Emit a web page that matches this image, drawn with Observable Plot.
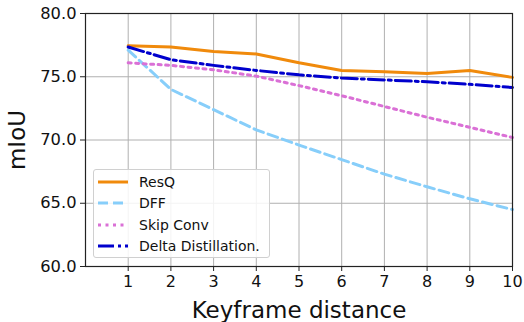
<!DOCTYPE html>
<html>
<head>
<meta charset="utf-8">
<script src="https://cdn.jsdelivr.net/npm/d3@7"></script>
<script src="https://cdn.jsdelivr.net/npm/@observablehq/plot@0.6"></script>
<style>
  body { margin: 0; background: #fff; }
  #wrap { position: relative; width: 524px; height: 322px; font-family: "DejaVu Sans", sans-serif; }
  #legend { position: absolute; left: 93px; top: 169px; width: 177px; height: 89px; border: 1px solid #d0d0d0; border-radius: 3px; background: rgba(255,255,255,0.85); box-sizing: border-box; }
  .row { position: absolute; left: 3px; height: 20px; display: flex; align-items: center; font-size: 14px; color: #111; }
  .row svg { margin-right: 10px; }
</style>
</head>
<body>
<div id="wrap"></div>
<script>
const keyframes = [1, 2, 3, 4, 5, 6, 7, 8, 9, 10];
const resq  = [77.45, 77.35, 77.0, 76.8, 76.1, 75.5, 75.4, 75.25, 75.5, 74.95];
const dff   = [77.1, 74.0, 72.4, 70.8, 69.6, 68.45, 67.3, 66.3, 65.35, 64.5];
const skip  = [76.1, 75.9, 75.55, 75.05, 74.3, 73.5, 72.65, 71.8, 71.0, 70.2];
const delta = [77.35, 76.35, 75.9, 75.5, 75.15, 74.9, 74.75, 74.6, 74.4, 74.15];
const yTicks = [60, 65, 70, 75, 80];

const series = [
  {name: "ResQ", values: resq, color: "#f08a0c", dash: null},
  {name: "DFF", values: dff, color: "#87cefa", dash: "10,5"},
  {name: "Skip Conv", values: skip, color: "#da70d6", dash: "3,4.5"},
  {name: "Delta Distillation.", values: delta, color: "#0000cd", dash: "16,4,3,4"}
];

const lineMarks = series.map(s => Plot.line(
  keyframes.map((k, i) => ({x: k, y: s.values[i]})),
  {x: "x", y: "y", stroke: s.color, strokeWidth: 3, strokeDasharray: s.dash, strokeLinejoin: "round"}
));

const chart = Plot.plot({
  width: 524,
  height: 322,
  marginLeft: 85,
  marginRight: 12,
  marginTop: 13,
  marginBottom: 56,
  style: {fontFamily: "DejaVu Sans, sans-serif", background: "white", color: "#111"},
  x: {domain: [0, 10]},
  y: {domain: [60, 80]},
  marks: [
    Plot.gridX(keyframes, {stroke: "#b0b0b0", strokeOpacity: 1, strokeWidth: 1}),
    Plot.gridY(yTicks, {stroke: "#b0b0b0", strokeOpacity: 1, strokeWidth: 1}),
    ...lineMarks,
    Plot.frame({stroke: "#222", strokeWidth: 1.2}),
    Plot.axisX(keyframes, {tickSize: 5, tickPadding: 4, fontSize: 16, label: null, stroke: "#222"}),
    Plot.axisX([], {tickSize: 0, label: "Keyframe distance", labelAnchor: "center", labelArrow: "none", labelOffset: 51, fontSize: 23}),
    Plot.axisY(yTicks, {tickSize: 5, tickPadding: 4, fontSize: 16.3, tickFormat: d => d.toFixed(1), label: null, stroke: "#222"}),
    Plot.axisY([], {tickSize: 0, label: "mIoU", labelAnchor: "center", labelArrow: "none", labelOffset: 77, fontSize: 23})
  ]
});

const wrap = document.getElementById("wrap");
wrap.appendChild(chart);

const legend = document.createElement("div");
legend.id = "legend";
series.forEach((s, i) => {
  const row = document.createElement("div");
  row.className = "row";
  row.style.top = (2 + i * 21.3) + "px";
  row.innerHTML = `<svg width="32" height="6"><line x1="1" y1="3" x2="31" y2="3" stroke="${s.color}" stroke-width="3" ${s.dash ? `stroke-dasharray="${s.dash}"` : ""}/></svg><span>${s.name}</span>`;
  legend.appendChild(row);
});
wrap.appendChild(legend);
</script>
</body>
</html>
